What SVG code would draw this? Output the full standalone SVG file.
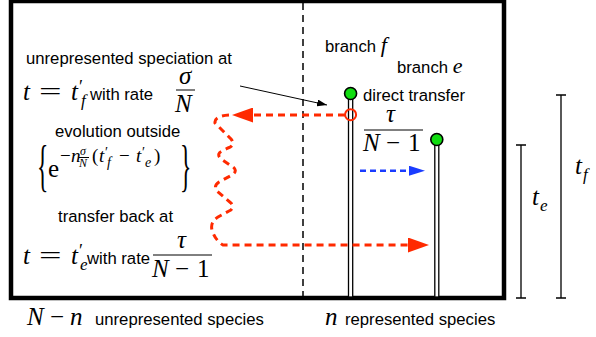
<svg xmlns="http://www.w3.org/2000/svg" width="596" height="337" viewBox="0 0 596 337">
<style>
.s{font-family:"Liberation Sans",Arial,sans-serif;font-size:16.7px;fill:#000}
.m{font-family:"Liberation Serif","Times New Roman",serif;font-style:italic;font-size:25px;fill:#000}
.u{font-family:"Liberation Serif","Times New Roman",serif;font-style:normal;font-size:25px;fill:#000}
.sub{font-size:17px}
.x{font-size:19px}
.xs{font-size:14px}
.xf{font-size:12px}
.pr{font-size:18px}
.red{fill:none;stroke:#ff2a00;stroke-width:3;stroke-dasharray:7 5}
.blue{fill:none;stroke:#1a3cff;stroke-width:2.5;stroke-dasharray:6 4}
.br{fill:#fff;stroke:#000;stroke-width:1.3}
.g{fill:#11dd11;stroke:#000;stroke-width:1.6}
.bar{stroke:#000;stroke-width:1.3;fill:none}
.fr{stroke:#000;stroke-width:1}
</style>
<defs>
<marker id="ar" markerUnits="userSpaceOnUse" viewBox="0 0 21 15" refX="0" refY="7.5" markerWidth="21" markerHeight="15" orient="auto"><path d="M0,0 L21,7.5 L0,15 z" fill="#ff2a00"/></marker>
<marker id="ab" markerUnits="userSpaceOnUse" viewBox="0 0 16 10" refX="0" refY="5" markerWidth="16" markerHeight="10" orient="auto"><path d="M0,0 L16,5 L0,10 z" fill="#1a3cff"/></marker>
<marker id="ak" markerUnits="userSpaceOnUse" viewBox="0 0 10 7" refX="10" refY="3.5" markerWidth="10" markerHeight="7" orient="auto"><path d="M0,0 L10,3.5 L0,7 z" fill="#000"/></marker>
</defs>
<rect x="11" y="1" width="493" height="297" fill="#fff" stroke="#000" stroke-width="4.5"/>
<line x1="303" y1="3" x2="303" y2="296" stroke="#000" stroke-width="1.5" stroke-dasharray="7 5"/>
<g id="branch-f">
<rect class="br" x="348.5" y="97" width="4.2" height="200"/>
<circle class="g" cx="350.6" cy="93.5" r="6"/>
<text class="s" x="325" y="52">branch <tspan class="m" style="font-size:22px">f</tspan></text>
</g>
<g id="branch-e">
<rect class="br" x="434.8" y="143" width="4" height="154"/>
<circle class="g" cx="436.8" cy="139.5" r="6"/>
<text class="s" x="397" y="73">branch <tspan class="m" style="font-size:22px">e</tspan></text>
</g>
<g id="connectors">
<circle cx="350.6" cy="114.7" r="5.5" fill="none" stroke="#ff2a00" stroke-width="2"/>
<path class="red" d="M345,115 L253,115" marker-end="url(#ar)"/>
<path class="red" d="M229,115 Q214,116 215,123 L231,139 Q236,145 228,148 L222,151 Q216,154 221,159 L233,167 Q238,171 232,175 L219,182 Q213,186 217,191 L231,203 Q235,208 229,211 L218,217 Q210,222 212,230 Q215,240 223,245 L408,245" marker-end="url(#ar)"/>
<path class="blue" d="M360,170.7 L409,170.7" marker-end="url(#ab)"/>
<line x1="240" y1="86" x2="327" y2="105" stroke="#000" stroke-width="1" marker-end="url(#ak)"/>
</g>
<g id="direct-transfer">
<text class="s" x="363" y="101">direct transfer</text>
<text class="m" x="386" y="122">τ</text>
<line class="fr" x1="364" y1="130" x2="423" y2="130"/>
<text class="m" x="363" y="151">N</text><text class="u" x="386" y="151">−</text><text class="u" x="408" y="151">1</text>
</g>
<g id="speciation-label">
<text class="s" x="26" y="64">unrepresented speciation at</text>
<text class="m" x="23" y="100">t</text><text class="u" transform="translate(39,100) scale(1.6,1)">=</text><text class="m" x="71" y="100">t</text><text class="u pr" x="79" y="93">′</text><text class="m sub" x="81" y="106">f</text>
<text class="s" x="90" y="100">with rate</text>
<text class="m" x="179" y="84">σ</text>
<line class="fr" x1="176" y1="90" x2="195" y2="90"/>
<text class="m" x="175" y="112">N</text>
</g>
<g id="evolution-label">
<text class="s" x="55" y="137">evolution outside</text>
<text class="u" style="font-size:56px" transform="translate(37,185) scale(0.42,1)">{</text>
<text class="u" x="48" y="177">e</text>
<text class="u x" x="60" y="162">−</text><text class="m x" x="71" y="162">n</text>
<text class="m xf" x="80" y="155">σ</text>
<line class="fr" x1="79" y1="157.5" x2="89" y2="157.5" stroke-width="0.7"/>
<text class="m xf" x="79" y="167">N</text>
<text class="u x" x="92" y="162">(</text><text class="m x" x="99" y="162">t</text><text class="u xs" x="105" y="157">′</text>
<text class="m xs" x="107" y="167">f</text>
<text class="u x" x="119" y="162">−</text>
<text class="m x" x="136" y="162">t</text><text class="u xs" x="142" y="157">′</text>
<text class="m xs" x="145" y="167">e</text>
<text class="u x" x="154" y="162">)</text>
<text class="u" style="font-size:56px" transform="translate(180,185) scale(0.42,1)">}</text>
</g>
<g id="transfer-back-label">
<text class="s" x="58" y="222">transfer back at</text>
<text class="m" x="23" y="264">t</text><text class="u" transform="translate(39,264) scale(1.6,1)">=</text><text class="m" x="71" y="264">t</text><text class="u pr" x="79" y="257">′</text><text class="m sub" x="80" y="270">e</text>
<text class="s" x="87" y="264">with rate</text>
<text class="m" x="177" y="248">τ</text>
<line class="fr" x1="153" y1="255" x2="212" y2="255"/>
<text class="m" x="152" y="277">N</text><text class="u" x="175" y="277">−</text><text class="u" x="197" y="277">1</text>
</g>
<g id="scale-te">
<path class="bar" d="M521,145 V298 M516,145 H526 M516,298 H526"/>
<text class="m" x="532" y="205">t</text><text class="m sub" x="540" y="211">e</text>
</g>
<g id="scale-tf">
<path class="bar" d="M561,95 V298 M556,95 H566 M556,298 H566"/>
<text class="m" x="575" y="174">t</text><text class="m sub" x="583" y="180">f</text>
</g>
<g id="footer">
<text class="m" x="27" y="325">N</text><text class="u" x="50" y="325">−</text><text class="m" x="70" y="325">n</text>
<text class="s" x="95" y="325">unrepresented species</text>
<text class="m" x="325" y="325">n</text>
<text class="s" x="345" y="325">represented species</text>
</g>
</svg>
